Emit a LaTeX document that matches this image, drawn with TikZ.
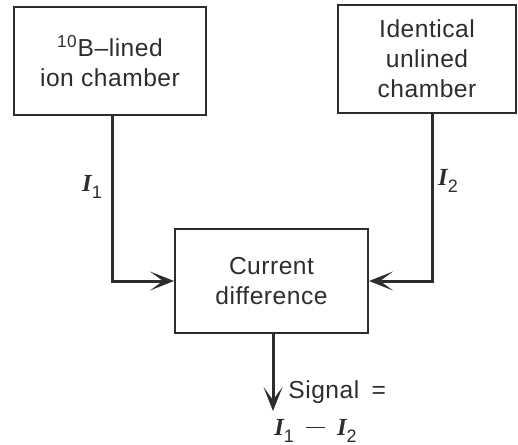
\documentclass[tikz,border=0pt]{standalone}
\usepackage{fontspec}
\setmainfont[LetterSpace=2]{Liberation Sans}
\newfontfamily\curfont{Liberation Serif}
\usetikzlibrary{arrows.meta}
\definecolor{ink}{HTML}{2A2E2C}

% a current symbol: italic serif I with a lowered index
\newcommand{\cur}[1]{{\curfont\bfseries\itshape I}\raisebox{-0.6ex}{\small#1}}

\begin{document}
\begin{tikzpicture}[
  x=0.5pt, y=-0.5pt, draw=ink, text=ink,
  box/.style={draw=ink, line width=1pt, align=center, inner sep=0pt,
    font=\fontsize{12.3}{15}\selectfont},
  feed/.style={draw=ink, line width=1.5pt,
    -{Stealth[length=12pt,width=9.5pt,inset=6.5pt]}},
  lbl/.style={font=\fontsize{12.3}{15}\selectfont, inner sep=0pt},
]
  \useasboundingbox (0,0) rectangle (518,444);

  % The two chambers and the difference unit.
  \node[box, minimum width=96pt, minimum height=54pt] (lined) at (110,61)
    {\textsuperscript{10}B--lined\\ion chamber};
  \node[box, minimum width=89pt, minimum height=54pt] (unlined) at (427,59)
    {Identical\\unlined\\chamber};
  \node[box, minimum width=96.5pt, minimum height=52pt] (diff) at (271.5,281)
    {Current\\difference};

  % Currents fed into the difference unit.
  \draw[feed] (lined.south -| 112,0) |- (diff.west);
  \draw[feed] (unlined.south -| 432,0) |- (diff.east);
  \node[lbl] (ione) at (92,187) {\cur{1}};
  \node[lbl] (itwo) at (448,181) {\cur{2}};

  % Output signal.
  \coordinate (out) at (273,411);
  \draw[feed] (diff.south -| out) -- (out);
  \node[lbl, anchor=west] (sig) at (288,392) {Signal\enspace=};
  \node[lbl, anchor=west] (sigval) at (274,431)
    {\cur{1}\hspace{0.5em}\rule[0.55ex]{0.75em}{0.7pt}\hspace{0.5em}\cur{2}};
\end{tikzpicture}
\end{document}
